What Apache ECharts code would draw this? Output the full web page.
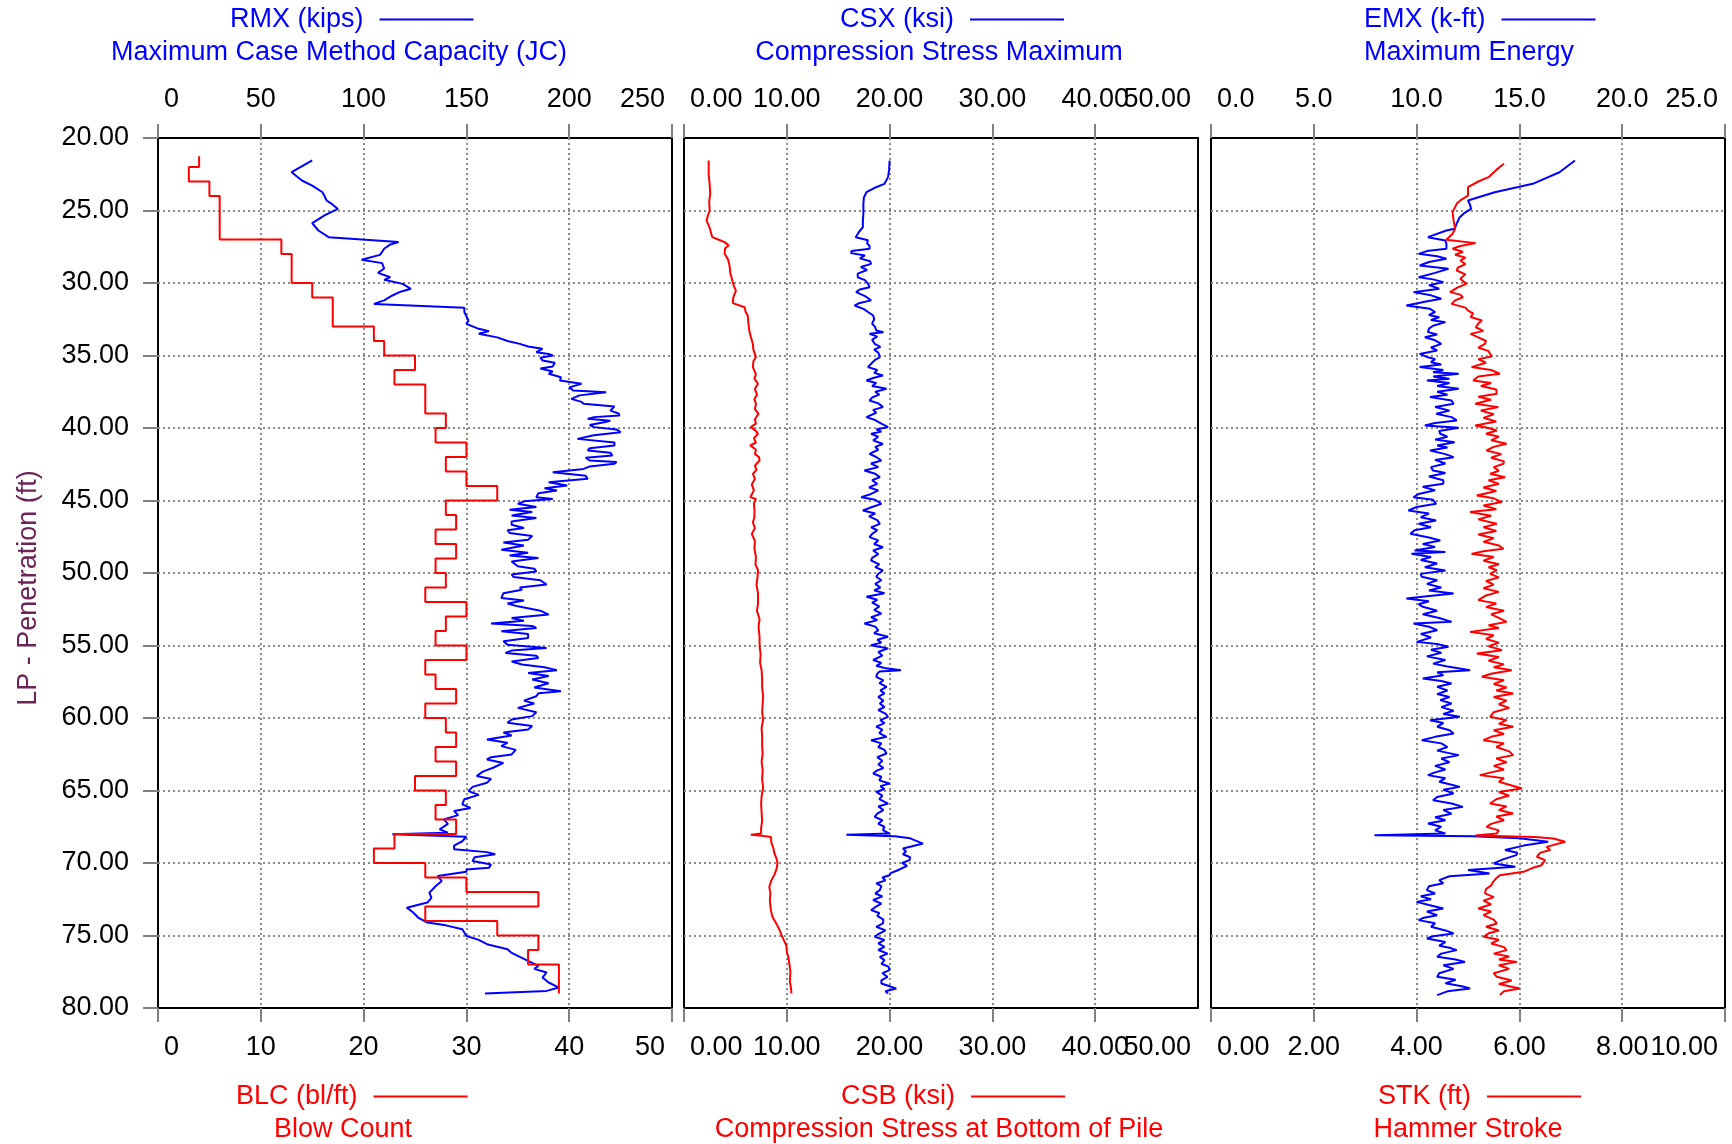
<!DOCTYPE html>
<html>
<head>
<meta charset="utf-8">
<title>Pile driving log</title>
<script src="https://cdn.jsdelivr.net/npm/echarts@6/dist/echarts.min.js"></script>
<style>
  html, body { margin: 0; padding: 0; background: #fff; }
  #chart { width: 1732px; height: 1144px; }
</style>
</head>
<body>
<div id="chart"></div>
<script>
// ---- Depth axis (ft) ----
const depthMin = 20, depthMax = 80, depthStep = 5;

// ---- Blow count (bl/ft), one value per foot of penetration ----
const blcTop = [21.25, 22, 23, 24, 25, 26, 27, 28, 29, 30, 31, 32, 33, 34, 35, 36, 37, 38, 39, 40,
  41, 42, 43, 44, 45, 46, 47, 48, 49, 50, 51, 52, 53, 54, 55, 56, 57, 58, 59, 60,
  61, 62, 63, 64, 65, 66, 67, 68, 69, 70, 71, 72, 73, 74, 75, 76, 77, 78];
const blcEnd = 79;
const blcValue = [4, 3, 5, 6, 6, 6, 12, 13, 13, 15, 17, 17, 21, 22, 25, 23, 26, 26, 28, 27,
  30, 28, 30, 33, 28, 29, 27, 29, 27, 28, 26, 30, 28, 27, 30, 26, 27, 29, 26, 28,
  29, 27, 29, 25, 28, 27, 29, 23, 21, 26, 30, 37, 26, 33, 37, 36, 39, 39];

// ---- RMX, maximum Case Method capacity (kips): [depth, value] ----
const rmx = [
  [21.55,75],[22.36,65],[22.93,70],[23.28,75],[23.74,80],[24.0,81],[24.31,82],[24.6,85],[24.89,87.5],
  [25.34,81],[25.87,75],[26.38,78],[26.84,83],[27.18,117],[27.34,113],[27.64,110],[28.06,108],[28.4,99],
  [28.63,109],[29.0,110],[29.3,107],[29.6,113],[29.78,110],[30.06,119],[30.4,123],[30.6,118],[30.86,114],
  [31.2,110],[31.44,105],[31.71,149],[32.0,149],[32.59,151],[32.82,150],[33.16,156],[33.32,161],[33.5,156],
  [33.75,165],[34.0,170],[34.2,176],[34.38,180],[34.54,187],[34.77,184],[34.9,190],[35.0,192],[35.15,186],
  [35.34,187],[35.5,193],[35.76,192],[35.9,186],[36.1,192],[36.26,190],[36.5,196],[36.72,195.5],[36.95,206],
  [37.2,200],[37.41,202],[37.53,218],[37.75,205],[37.99,201],[38.2,206],[38.33,207],[38.52,222],[38.8,220],
  [39.0,224],[39.14,224.5],[39.25,212],[39.37,209],[39.5,220],[39.6,217],[39.8,210],[39.94,212],[40.1,223],
  [40.29,225],[40.5,212],[40.75,204],[41.0,222],[41.21,222],[41.4,210],[41.55,209],[41.7,220],[41.9,221],
  [42.05,208],[42.24,210],[42.35,223],[42.47,222],[42.65,210],[42.82,207],[43.05,192],[43.3,208],[43.5,209],
  [43.74,190],[43.97,199],[44.15,188],[44.31,194],[44.5,185],[44.77,184],[44.89,192],[45.06,178],[45.23,175],
  [45.45,184],[45.64,171],[45.8,182],[46.03,172],[46.2,184],[46.45,172],[46.67,172],[46.9,178],[47.05,170],
  [47.24,171],[47.45,182],[47.7,180],[47.9,168],[48.1,178],[48.39,167],[48.6,180],[48.8,171],[48.97,185],
  [49.2,172],[49.54,175],[49.7,183],[49.89,184],[50.1,172],[50.28,173],[50.5,186],[50.8,189],[51.0,176],
  [51.15,177],[51.4,168],[51.72,167],[51.9,178],[52.1,170],[52.3,175],[52.6,186],[52.87,190],[53.1,172],
  [53.3,178],[53.49,162],[53.65,182],[53.79,184],[54.02,167],[54.2,180],[54.48,180],[54.7,168],[54.94,170],
  [55.17,189],[55.35,172],[55.51,169],[55.7,184],[55.86,185],[56.1,172],[56.31,177],[56.5,188],[56.7,194],
  [56.9,180],[57.1,190],[57.35,182],[57.6,190],[57.9,183],[58.15,196],[58.3,185],[58.5,184],[58.8,178],
  [59.0,183],[59.3,175],[59.6,184],[59.87,182],[60.1,172],[60.33,170],[60.55,182],[60.79,180],[61.0,168],
  [61.2,172],[61.48,160],[61.7,170],[61.94,167],[62.2,174],[62.51,172],[62.7,162],[62.86,160],[63.1,168],
  [63.43,163],[63.7,158],[64.0,155],[64.2,162],[64.47,160],[64.75,153],[65.04,151],[65.3,156],[65.6,149],
  [65.96,148],[66.2,152],[66.42,144],[66.7,146],[66.99,139],[67.3,141],[67.68,137],[67.91,141],[68.02,114],
  [68.19,150],[68.5,148],[68.8,144],[69.06,144],[69.25,160],[69.4,164],[69.6,154],[69.86,153],[70.1,162],
  [70.32,161],[70.44,150],[70.6,150],[70.9,136],[71.24,138],[71.6,135],[72.04,132],[72.4,133],[72.73,131],
  [73.08,121],[73.4,124],[73.76,126.5],[74.11,131],[74.3,140],[74.57,148],[75.03,150],[75.3,156],[75.6,160],
  [75.95,170],[76.2,172],[76.41,175],[76.75,180],[77.1,185],[77.3,183],[77.55,189],[77.9,187],[78.24,190],
  [78.59,195],[78.82,189],[79.0,159]
];

// ---- CSX, maximum compression stress (ksi): [depth, value] ----
const csx = [
  [21.55,20.0],[22.2,19.95],[22.7,19.85],[23.16,19.5],[23.45,18.5],[23.74,17.75],[24.1,17.5],[24.54,17.45],
  [25.2,17.45],[25.7,17.4],[26.15,17.4],[26.5,17.0],[26.84,16.7],[27.05,17.9],[27.25,17.8],[27.45,18.05],
  [27.64,18.05],[27.8,16.3],[27.94,16.25],[28.1,17.6],[28.3,17.1],[28.5,18.1],[28.68,18.2],[28.9,17.2],
  [29.1,17.8],[29.35,16.9],[29.6,16.9],[29.8,17.6],[30.05,17.9],[30.29,18.05],[30.45,17.1],[30.63,16.75],
  [30.9,17.6],[31.2,18.2],[31.4,17.0],[31.55,16.6],[31.8,17.5],[32.0,17.9],[32.24,18.4],[32.5,18.5],
  [32.8,18.3],[33.05,18.6],[33.28,18.7],[33.4,19.4],[33.5,18.05],[33.7,18.8],[33.9,18.3],[34.2,18.55],
  [34.4,19.1],[34.6,18.5],[34.8,18.9],[35.11,19.05],[35.3,18.6],[35.5,18.3],[35.8,17.9],[36.0,18.8],
  [36.2,18.5],[36.38,19.35],[36.55,18.4],[36.72,17.75],[36.9,18.7],[37.1,18.3],[37.3,19.7],[37.5,18.6],
  [37.7,19.0],[37.9,18.3],[38.1,18.05],[38.3,18.9],[38.56,19.35],[38.75,18.4],[38.95,18.7],[39.25,17.75],
  [39.45,18.6],[39.7,19.2],[39.94,19.85],[40.1,18.7],[40.25,19.2],[40.4,18.2],[40.6,18.9],[40.85,18.4],
  [41.1,19.35],[41.3,18.6],[41.5,18.9],[41.78,18.05],[42.0,18.7],[42.24,19.2],[42.45,18.2],[42.7,18.9],
  [42.93,17.55],[43.15,18.6],[43.39,19.05],[43.6,18.3],[43.85,18.8],[44.1,18.0],[44.3,18.9],[44.55,18.2],
  [44.77,17.25],[44.95,18.6],[45.23,19.2],[45.45,18.3],[45.69,17.4],[45.9,18.6],[46.1,18.0],[46.35,18.8],
  [46.61,19.05],[46.85,18.2],[47.05,18.8],[47.3,18.3],[47.53,18.05],[47.75,18.9],[48.0,18.5],[48.22,19.35],
  [48.45,18.4],[48.7,18.9],[48.95,18.3],[49.14,18.2],[49.4,19.0],[49.6,18.6],[49.83,19.35],[50.05,18.9],
  [50.26,18.7],[50.5,19.2],[50.75,18.6],[51.0,19.1],[51.2,18.5],[51.4,19.5],[51.64,17.75],[51.85,18.8],
  [52.05,18.3],[52.3,19.0],[52.55,18.5],[52.8,19.2],[53.05,18.2],[53.25,18.8],[53.48,17.55],[53.7,18.6],
  [53.95,18.9],[54.15,18.5],[54.4,19.85],[54.6,18.8],[54.8,19.2],[54.98,18.2],[55.2,19.85],[55.45,18.9],
  [55.7,19.3],[56.0,18.4],[56.2,19.2],[56.4,18.7],[56.55,19.5],[56.7,21.1],[56.8,19.0],[56.95,18.8],
  [57.16,18.7],[57.4,19.4],[57.6,19.0],[57.85,19.7],[58.1,19.1],[58.3,19.5],[58.55,18.9],[58.8,19.4],
  [59.0,19.05],[59.25,19.5],[59.45,18.9],[59.7,19.6],[59.92,19.85],[60.15,19.1],[60.35,19.5],[60.6,18.7],
  [60.8,19.3],[61.05,19.0],[61.3,19.7],[61.53,18.2],[61.75,19.2],[62.0,18.9],[62.2,19.5],[62.45,19.7],
  [62.7,18.8],[62.95,19.3],[63.2,18.9],[63.45,19.4],[63.65,18.7],[63.83,18.4],[64.05,19.2],[64.3,19.0],
  [64.52,20.0],[64.7,19.1],[64.9,19.5],[65.1,18.7],[65.35,19.3],[65.6,19.0],[65.9,19.85],[66.1,18.9],
  [66.35,19.4],[66.6,18.8],[66.82,18.55],[67.05,19.3],[67.3,18.9],[67.5,19.5],[67.74,19.35],[67.97,20.0],
  [68.05,15.8],[68.15,20.5],[68.3,22.0],[68.66,23.25],[68.85,22.2],[69.0,21.3],[69.2,21.6],[69.4,21.3],
  [69.6,22.0],[69.8,21.95],[70.0,21.2],[70.2,21.7],[70.5,20.8],[70.7,20.1],[70.84,20.0],[71.0,19.3],
  [71.2,19.6],[71.41,18.7],[71.6,19.2],[71.87,19.05],[72.1,18.6],[72.3,19.3],[72.55,18.4],[72.8,19.2],
  [73.05,18.6],[73.25,18.2],[73.45,19.0],[73.65,18.8],[73.9,19.4],[74.17,19.35],[74.4,18.7],[74.65,19.6],
  [74.9,18.9],[75.09,18.55],[75.3,19.5],[75.55,18.9],[75.78,19.5],[76.0,18.9],[76.25,19.8],[76.47,19.05],
  [76.7,19.5],[76.95,19.2],[77.15,19.9],[77.39,20.0],[77.6,19.3],[77.85,19.8],[78.1,19.2],[78.31,19.2],
  [78.5,20.0],[78.66,20.65],[78.85,19.6],[79.0,19.85]
];

// ---- CSB, compression stress at bottom of pile (ksi): [depth, value] ----
const csb = [
  [21.55,2.4],[22.5,2.4],[23.2,2.5],[23.85,2.55],[24.4,2.45],[25.0,2.5],[25.4,2.3],[25.7,2.2],[26.2,2.5],
  [26.84,2.75],[27.05,3.5],[27.18,3.95],[27.41,4.35],[27.6,4.0],[27.99,3.95],[28.4,4.3],[28.9,4.45],[29.3,4.5],
  [29.83,4.7],[30.2,4.85],[30.52,5.05],[30.98,4.8],[31.39,4.75],[31.67,5.9],[32.0,6.0],[32.24,6.2],[32.7,6.25],
  [33.28,6.35],[33.7,6.5],[34.2,6.7],[34.6,6.75],[35.11,7.0],[35.4,6.75],[35.8,6.7],[36.3,7.0],[36.6,6.85],
  [36.95,7.2],[37.3,6.9],[37.7,7.1],[38.0,6.85],[38.33,7.0],[38.7,6.9],[39.02,7.25],[39.4,6.9],[39.7,7.0],
  [39.94,6.5],[40.2,7.0],[40.4,7.2],[40.7,6.8],[41.0,7.0],[41.2,6.45],[41.5,7.0],[41.8,6.9],[42.0,7.3],
  [42.24,7.35],[42.6,6.9],[42.9,7.05],[43.16,6.7],[43.5,6.9],[43.9,6.6],[44.3,6.8],[44.77,6.45],[44.9,7.0],
  [45.2,6.8],[45.6,6.85],[46.15,6.85],[46.5,6.7],[46.9,6.9],[47.3,6.6],[47.8,6.9],[48.3,6.85],[48.9,7.0],
  [49.4,6.95],[49.8,7.2],[50.3,7.15],[50.8,7.05],[51.4,7.2],[52.1,7.2],[52.6,7.1],[53.2,7.35],[53.7,7.25],
  [54.4,7.35],[55.0,7.35],[55.6,7.45],[56.2,7.4],[56.7,7.55],[57.3,7.6],[57.9,7.6],[58.5,7.7],[59.0,7.65],
  [59.6,7.6],[60.1,7.7],[60.7,7.55],[61.3,7.6],[61.9,7.6],[62.5,7.65],[63.0,7.55],[63.6,7.65],[64.2,7.6],
  [64.8,7.7],[65.4,7.55],[65.9,7.5],[66.5,7.55],[67.1,7.6],[67.6,7.5],[67.97,7.5],[68.05,6.5],[68.12,7.6],
  [68.2,8.45],[68.6,8.5],[69.0,8.7],[69.34,8.8],[69.7,9.0],[70.03,9.1],[70.4,9.0],[70.8,8.8],[71.2,8.5],
  [71.64,8.3],[72.1,8.4],[72.6,8.35],[73.25,8.45],[73.7,8.6],[74.2,9.0],[74.63,9.3],[75.0,9.5],[75.3,9.7],
  [75.67,9.95],[76.1,10.0],[76.5,10.15],[76.93,10.25],[77.5,10.35],[78.2,10.3],[78.6,10.4],[79.0,10.45]
];

// ---- EMX, maximum transferred energy (k-ft): [depth, value] ----
const emx = [
  [21.55,17.7],[22.36,16.95],[23.16,15.65],[23.74,13.8],[24.31,12.5],[24.6,12.6],[24.89,12.65],[25.2,12.3],
  [25.46,12.1],[25.9,11.95],[26.26,11.85],[26.38,11.45],[26.84,10.55],[27.07,11.4],[27.3,11.45],[27.64,11.45],
  [27.8,10.5],[27.99,10.1],[28.15,11.0],[28.33,11.45],[28.55,10.6],[28.79,10.15],[29.02,11.55],[29.3,10.9],
  [29.6,10.1],[29.75,10.8],[29.94,11.3],[30.15,10.6],[30.4,11.1],[30.63,9.85],[30.85,10.7],[31.09,11.2],
  [31.3,10.4],[31.55,9.5],[31.78,10.65],[32.0,10.9],[32.2,10.6],[32.36,11.1],[32.55,10.7],[32.7,11.4],
  [32.95,10.8],[33.15,10.6],[33.39,10.55],[33.55,11.0],[33.74,10.4],[33.95,10.9],[34.2,11.2],[34.45,10.7],
  [34.65,11.0],[34.89,10.15],[35.1,10.5],[35.25,10.9],[35.46,10.7],[35.62,11.2],[35.8,10.15],[36.0,11.3],
  [36.15,10.8],[36.26,12.05],[36.45,10.8],[36.6,11.6],[36.72,10.5],[36.9,11.6],[37.1,11.0],[37.3,12.05],
  [37.5,11.0],[37.7,11.5],[37.87,10.65],[38.1,11.7],[38.33,11.8],[38.55,10.9],[38.8,11.6],[39.02,10.95],
  [39.25,11.7],[39.48,11.95],[39.65,10.9],[39.83,10.4],[39.99,12.05],[40.2,11.1],[40.4,11.15],[40.6,11.5],
  [40.8,10.9],[40.98,11.85],[41.2,11.0],[41.35,11.5],[41.55,10.65],[41.8,11.4],[42.01,11.8],[42.2,10.9],
  [42.45,11.4],[42.7,10.7],[42.93,10.8],[43.1,11.4],[43.35,10.6],[43.6,11.3],[43.85,11.3],[44.05,10.3],
  [44.3,10.9],[44.55,10.1],[44.77,9.85],[44.95,10.8],[45.23,10.95],[45.45,10.0],[45.69,9.6],[45.9,10.6],
  [46.15,10.2],[46.38,10.95],[46.6,10.1],[46.85,10.7],[47.05,9.9],[47.3,9.7],[47.55,10.6],[47.76,11.15],
  [48.0,10.3],[48.2,10.9],[48.45,9.9],[48.56,11.4],[48.68,9.75],[48.9,10.7],[49.1,10.2],[49.35,11.0],
  [49.6,10.4],[49.83,11.4],[50.06,10.2],[50.26,10.25],[50.5,11.0],[50.75,10.5],[51.0,11.2],[51.2,10.6],
  [51.41,11.8],[51.6,10.5],[51.76,9.5],[51.95,10.6],[52.15,10.1],[52.33,10.3],[52.6,11.0],[52.85,10.3],
  [53.1,11.1],[53.37,11.7],[53.48,9.85],[53.7,10.6],[53.95,11.0],[54.2,10.2],[54.45,10.7],[54.75,10.0],
  [54.9,11.0],[55.09,11.55],[55.3,10.7],[55.5,11.2],[55.75,10.5],[56.0,11.4],[56.25,10.8],[56.45,11.5],
  [56.7,12.6],[56.85,11.0],[57.05,11.3],[57.28,10.3],[57.45,11.2],[57.62,11.7],[57.85,11.0],[58.1,11.5],
  [58.35,11.0],[58.55,11.6],[58.77,11.15],[59.0,11.7],[59.25,11.2],[59.5,11.8],[59.72,11.3],[59.92,12.1],
  [60.15,10.65],[60.35,11.3],[60.6,11.0],[60.85,11.6],[61.07,11.8],[61.3,10.9],[61.53,10.25],[61.75,11.2],
  [62.0,11.5],[62.25,11.0],[62.56,12.05],[62.8,11.2],[63.05,11.6],[63.3,10.9],[63.55,11.4],[63.75,10.9],
  [63.94,10.55],[64.15,11.4],[64.4,11.1],[64.6,11.7],[64.75,12.1],[64.95,11.3],[65.2,11.8],[65.45,11.0],
  [65.67,10.8],[65.9,11.7],[66.13,12.25],[66.35,11.3],[66.6,11.7],[66.85,10.9],[67.05,11.4],[67.28,10.55],
  [67.5,11.2],[67.75,10.9],[67.97,11.4],[68.08,7.95],[68.15,12.75],[68.3,15.0],[68.54,16.4],[68.8,15.2],
  [69.11,14.3],[69.3,14.9],[69.46,14.85],[69.75,14.2],[70.03,13.75],[70.26,14.8],[70.49,12.5],[70.72,13.55],
  [70.91,11.6],[71.18,11.1],[71.4,11.3],[71.6,10.6],[71.87,10.5],[72.1,10.9],[72.3,10.2],[72.5,10.7],
  [72.68,10.0],[72.9,10.6],[73.14,11.3],[73.35,10.5],[73.6,11.0],[73.8,10.3],[73.94,10.1],[74.15,10.9],
  [74.4,10.7],[74.65,11.4],[74.86,11.8],[75.05,10.8],[75.21,10.5],[75.45,11.4],[75.7,11.1],[75.85,11.6],
  [76.01,11.95],[76.25,11.2],[76.47,11.0],[76.65,11.9],[76.82,12.35],[77.05,11.3],[77.3,11.8],[77.6,11.1],
  [77.85,11.0],[78.05,11.9],[78.3,11.4],[78.5,12.2],[78.66,12.6],[78.85,11.5],[79.11,11.0]
];

// ---- STK, hammer stroke (ft): [depth, value] ----
const stk = [
  [21.78,5.7],[22.2,5.55],[22.7,5.4],[23.0,5.2],[23.39,5.0],[23.97,5.0],[24.3,4.85],[24.54,4.78],[25.11,4.7],
  [25.7,4.72],[26.26,4.75],[26.6,4.7],[27.02,4.58],[27.25,5.15],[27.45,4.85],[27.64,4.7],[27.85,4.9],[28.05,4.75],
  [28.25,4.95],[28.45,4.85],[28.7,4.95],[28.95,4.8],[29.14,4.78],[29.4,4.95],[29.7,4.85],[30.06,4.97],[30.3,4.8],
  [30.63,4.65],[30.8,4.85],[30.98,4.9],[31.2,4.75],[31.44,4.68],[31.7,4.95],[31.9,5.0],[32.1,5.1],[32.35,5.05],
  [32.59,5.27],[32.8,5.2],[33.05,5.15],[33.3,5.3],[33.51,5.05],[33.75,5.2],[34.0,5.35],[34.2,5.33],[34.45,5.2],
  [34.7,5.4],[35.07,5.46],[35.25,5.2],[35.5,5.35],[35.8,5.07],[36.0,5.45],[36.26,5.62],[36.45,5.2],[36.72,5.1],
  [36.9,5.45],[37.1,5.25],[37.35,5.55],[37.64,5.56],[37.85,5.2],[38.05,5.45],[38.33,5.14],[38.56,5.59],[38.8,5.25],
  [39.05,5.5],[39.3,5.3],[39.55,5.55],[39.83,5.14],[40.0,5.4],[40.17,5.56],[40.4,5.35],[40.6,5.6],[40.85,5.45],
  [41.09,5.75],[41.3,5.5],[41.55,5.36],[41.8,5.65],[42.05,5.45],[42.3,5.7],[42.47,5.69],[42.7,5.5],[42.95,5.6],
  [43.16,5.43],[43.39,5.72],[43.6,5.4],[43.85,5.6],[44.1,5.3],[44.35,5.55],[44.66,5.17],[44.85,5.5],[45.11,5.66],
  [45.35,5.3],[45.6,5.55],[45.8,5.04],[46.05,5.45],[46.3,5.2],[46.61,5.56],[46.85,5.3],[47.1,5.55],[47.35,5.2],
  [47.6,5.5],[47.85,5.3],[48.1,5.6],[48.33,5.69],[48.5,5.3],[48.68,5.07],[48.9,5.5],[49.15,5.3],[49.4,5.6],
  [49.6,5.4],[49.8,5.56],[50.06,5.43],[50.3,5.6],[50.55,5.35],[50.8,5.5],[51.05,5.3],[51.3,5.6],[51.55,5.35],
  [51.87,5.2],[52.1,5.55],[52.35,5.35],[52.6,5.7],[52.85,5.45],[53.1,5.6],[53.37,5.75],[53.6,5.4],[53.8,5.6],
  [54.06,5.04],[54.3,5.5],[54.55,5.35],[54.8,5.6],[55.05,5.4],[55.32,5.66],[55.55,5.17],[55.8,5.6],[56.05,5.4],
  [56.3,5.7],[56.5,5.5],[56.7,5.85],[56.95,5.45],[57.16,5.27],[57.4,5.7],[57.65,5.5],[57.9,5.75],[58.1,5.55],
  [58.31,5.88],[58.55,5.5],[58.8,5.75],[59.05,5.6],[59.3,5.8],[59.6,5.5],[59.92,5.43],[60.15,5.75],[60.4,5.6],
  [60.61,5.88],[60.85,5.5],[61.1,5.7],[61.3,5.45],[61.53,5.3],[61.75,5.7],[62.0,5.55],[62.3,5.8],[62.56,5.88],
  [62.8,5.55],[63.05,5.75],[63.3,5.5],[63.55,5.7],[63.75,5.45],[63.94,5.23],[64.15,5.7],[64.4,5.6],[64.65,5.85],
  [64.86,6.05],[65.1,5.6],[65.35,5.8],[65.6,5.55],[65.9,5.43],[66.1,5.75],[66.35,5.6],[66.59,5.88],[66.8,5.55],
  [67.05,5.7],[67.3,5.45],[67.51,5.36],[67.75,5.6],[67.97,5.56],[68.1,5.14],[68.2,6.3],[68.31,6.66],[68.54,6.89],
  [68.89,6.53],[69.1,6.6],[69.3,6.4],[69.57,6.34],[69.8,6.5],[70.15,6.43],[70.35,6.25],[70.61,6.08],[70.84,5.62],
  [71.05,5.55],[71.3,5.49],[71.55,5.45],[71.8,5.35],[72.1,5.33],[72.35,5.5],[72.6,5.3],[72.85,5.45],[73.14,5.2],
  [73.35,5.45],[73.6,5.3],[73.9,5.5],[74.17,5.56],[74.4,5.35],[74.65,5.6],[74.85,5.4],[75.09,5.3],[75.3,5.6],
  [75.55,5.45],[75.8,5.7],[76.01,5.75],[76.25,5.5],[76.45,5.8],[76.65,5.6],[76.82,5.95],[77.05,5.6],[77.3,5.8],
  [77.6,5.5],[77.85,5.56],[78.1,5.85],[78.35,5.6],[78.66,6.01],[78.85,5.7],[79.11,5.62]
];

// ---- Step outline of the per-foot blow count ----
const blcLine = [];
blcValue.forEach((v, i) => {
  const bottom = i + 1 < blcTop.length ? blcTop[i + 1] : blcEnd;
  blcLine.push([blcTop[i], v], [bottom, v]);
});

// ---- Styling ----
const FONT = 'Liberation Sans, Arial, sans-serif';
const FS = 27;
const BLUE = '#0000ff', RED = '#ff0000';
const GRID_TOP = 138, GRID_H = 870, GRID_W = 514;
const panelLeft = [158, 684, 1211];

// First and last tick labels are pulled inside the panel edges.
function tickFormatter(min, max, digits, only) {
  return function (v) {
    const s = v.toFixed(digits);
    const isMin = Math.abs(v - min) < 1e-9, isMax = Math.abs(v - max) < 1e-9;
    if (only === 'max') return isMax ? '{hi|' + s + '}' : '';
    if (isMin) return '{lo|' + s + '}';
    if (isMax) return '{hi|' + s + '}';
    return s;
  };
}
const edgeRich = { lo: { padding: [0, 0, 0, 6] }, hi: { padding: [0, 7, 0, 0] } };
const gridLineStyle = { color: '#8a8a8a', width: 2, type: [2, 3] };

// opts.maxLabel: false -> leave the max label to a separate label-only axis
// opts.labelsOnly: 'max' -> label-only axis that prints just the max value
function xAxisDef(gridIndex, position, min, max, interval, digits, withSplit, opts) {
  opts = opts || {};
  const labelOnly = opts.labelsOnly === 'max';
  return {
    type: 'value', gridIndex, position, min, max, interval,
    axisLine: { show: false },
    axisTick: { show: !labelOnly, inside: false, length: 14, lineStyle: { color: '#808080', width: 2 } },
    axisLabel: {
      show: true, fontFamily: FONT, fontSize: FS, color: '#000',
      margin: position === 'top' ? 25 : 26,
      showMinLabel: !labelOnly, showMaxLabel: opts.maxLabel !== false, hideOverlap: false,
      alignMinLabel: 'left', alignMaxLabel: 'right',
      formatter: tickFormatter(min, max, digits, opts.labelsOnly), rich: edgeRich
    },
    splitLine: { show: withSplit, showMinLine: false, showMaxLine: false, lineStyle: gridLineStyle }
  };
}

function yAxisDef(gridIndex, showLabels) {
  return {
    type: 'value', gridIndex, inverse: true, min: depthMin, max: depthMax, interval: depthStep,
    axisLine: { show: false },
    axisTick: { show: showLabels, length: 15, lineStyle: { color: '#808080', width: 2 } },
    axisLabel: {
      show: showLabels, fontFamily: FONT, fontSize: FS, color: '#000', margin: 29,
      formatter: v => v.toFixed(2)
    },
    splitLine: { show: true, showMinLine: false, showMaxLine: false, lineStyle: gridLineStyle },
    name: showLabels ? 'LP - Penetration (ft)' : '',
    nameLocation: 'middle', nameRotate: 90, nameGap: 116,
    nameTextStyle: { fontFamily: FONT, fontSize: FS, color: '#6b2358', padding: [0, 30, 0, 0] }
  };
}

function seriesDef(name, data, axisIdx, color) {
  return {
    name, type: 'line', data, xAxisIndex: axisIdx, yAxisIndex: Math.floor(axisIdx / 2),
    encode: { x: 1, y: 0 }, showSymbol: false, symbol: 'none', clip: true,
    lineStyle: { color, width: 2 }, itemStyle: { color }, z: color === RED ? 3 : 2
  };
}

function legendDef(name, left, top, color) {
  return {
    data: [name], left, top, padding: 0, align: 'right', selectedMode: false,
    icon: 'rect', itemWidth: 94, itemHeight: 2,
    textStyle: { fontFamily: FONT, fontSize: FS, color, padding: [0, 11, 0, 0] }
  };
}

function subtitle(text, x, top, color) {
  return {
    text, left: x, top, textAlign: 'center', padding: 0,
    textStyle: { fontFamily: FONT, fontSize: FS, fontWeight: 'normal', color }
  };
}

const option = {
  animation: false,
  backgroundColor: '#ffffff',
  grid: panelLeft.map(l => ({
    left: l, top: GRID_TOP, width: GRID_W, height: GRID_H,
    show: true, borderColor: '#000', borderWidth: 2, backgroundColor: 'transparent'
  })),
  xAxis: [
    xAxisDef(0, 'top', 0, 250, 50, 0, true),
    xAxisDef(0, 'bottom', 0, 50, 10, 0, false),
    xAxisDef(1, 'top', 0, 50, 10, 2, true, { maxLabel: false }),
    xAxisDef(1, 'bottom', 0, 50, 10, 2, false, { maxLabel: false }),
    xAxisDef(2, 'top', 0, 25, 5, 1, true),
    xAxisDef(2, 'bottom', 0, 10, 2, 2, false),
    // "50.00" labels of the middle panel, which sit right against "40.00"
    xAxisDef(1, 'top', 0, 50, 10, 2, false, { labelsOnly: 'max' }),
    xAxisDef(1, 'bottom', 0, 50, 10, 2, false, { labelsOnly: 'max' })
  ],
  yAxis: [yAxisDef(0, true), yAxisDef(1, false), yAxisDef(2, false)],
  legend: [
    legendDef('RMX (kips)', 230, 6, BLUE),
    legendDef('CSX (ksi)', 840, 6, BLUE),
    legendDef('EMX (k-ft)', 1364, 6, BLUE),
    legendDef('BLC (bl/ft)', 236, 1083, RED),
    legendDef('CSB (ksi)', 841, 1083, RED),
    legendDef('STK (ft)', 1378, 1083, RED)
  ],
  title: [
    subtitle('Maximum Case Method Capacity (JC)', 339, 39, BLUE),
    subtitle('Compression Stress Maximum', 939, 39, BLUE),
    subtitle('Maximum Energy', 1469, 39, BLUE),
    subtitle('Blow Count', 343, 1116, RED),
    subtitle('Compression Stress at Bottom of Pile', 939, 1116, RED),
    subtitle('Hammer Stroke', 1468, 1116, RED)
  ],
  series: [
    seriesDef('RMX (kips)', rmx, 0, BLUE),
    seriesDef('BLC (bl/ft)', blcLine, 1, RED),
    seriesDef('CSX (ksi)', csx, 2, BLUE),
    seriesDef('CSB (ksi)', csb, 3, RED),
    seriesDef('EMX (k-ft)', emx, 4, BLUE),
    seriesDef('STK (ft)', stk, 5, RED)
  ]
};

const chart = echarts.init(document.getElementById('chart'), null, { renderer: 'canvas' });
chart.setOption(option);
</script>
</body>
</html>
